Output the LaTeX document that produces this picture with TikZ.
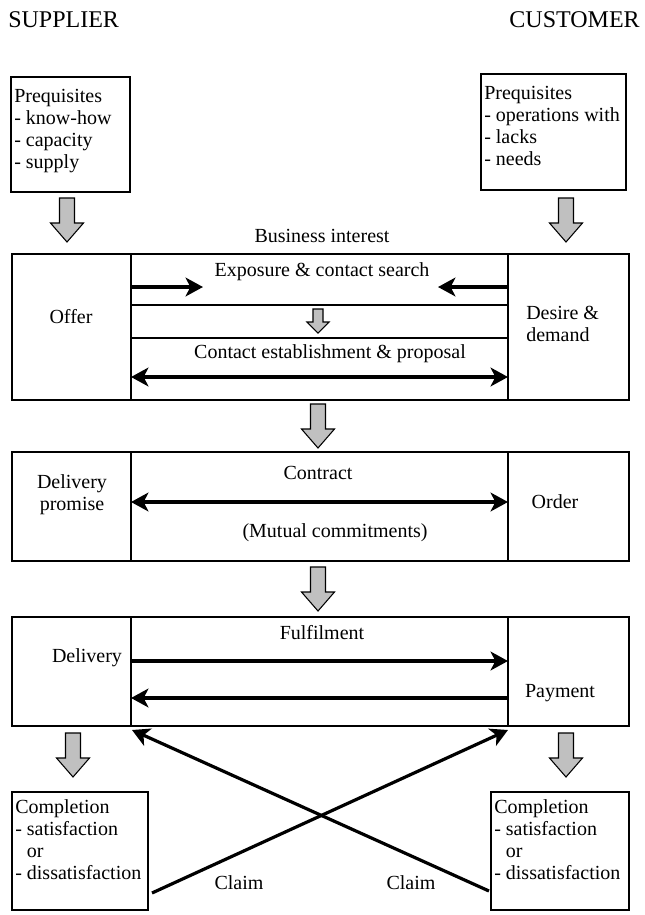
\documentclass[tikz,border=0pt]{standalone}
\usepackage{fontspec}
\setmainfont{Liberation Serif}
\usetikzlibrary{arrows.meta}
\definecolor{garrowfill}{HTML}{C0C0C0}
\begin{document}
\begin{tikzpicture}[x=0.75pt,y=-0.75pt,
  txt/.style={font=\fontsize{15}{16.5}\selectfont, inner sep=0pt},
  ttl/.style={font=\fontsize{18}{20}\selectfont, inner sep=0pt},
  cell/.style={draw, line width=1.4pt, anchor=north west, inner sep=0pt, outer sep=0pt},
  rowline/.style={line width=1.1pt},
  blk/.style={line width=2.4pt, -{Stealth[length=13pt,width=14pt,inset=3.5pt]}},
  blkboth/.style={line width=2.4pt, {Stealth[length=13pt,width=14pt,inset=3.5pt]}-{Stealth[length=13pt,width=14pt,inset=3.5pt]}},
  gshape/.style={fill=garrowfill, draw=black, line width=0.8pt, line join=miter},
  bigdown/.pic={\path[gshape] (-7.5,0) -- (7.5,0) -- (7.5,25) -- (16.5,25) -- (0,44) -- (-16.5,25) -- (-7.5,25) -- cycle;},
  smalldown/.pic={\path[gshape] (-5,0) -- (5,0) -- (5,13) -- (11,13) -- (0,24) -- (-11,13) -- (-5,13) -- cycle;}
]
\useasboundingbox (0,0) rectangle (644,915);

% titles
\node[ttl, anchor=base west] (sup) at (8,27) {SUPPLIER};
\node[ttl, anchor=base east] (cus) at (640,27) {CUSTOMER};

% prerequisite boxes
\node[cell, line width=2pt, minimum width=89.25pt, minimum height=86.25pt] (pl) at (11,77) {};
\node[txt, anchor=north west, align=left] (plt) at (14,89) {Prequisites\\- know-how\\- capacity\\- supply};
\node[cell, minimum width=108.75pt, minimum height=87pt] (pr) at (481,74) {};
\node[txt, anchor=north west, align=left] (prt) at (484,86) {Prequisites\\- operations with\\- lacks\\- needs};

\pic at (67,198) {bigdown};
\pic at (566,198) {bigdown};

\node[txt] (bi) at (322,236) {Business interest};

% box 1
\node[cell, minimum width=89.25pt, minimum height=109.5pt] (l1) at (12,254) {};
\node[cell, minimum width=282.75pt, minimum height=109.5pt] (m1) at (131,254) {};
\node[cell, minimum width=90.75pt, minimum height=109.5pt] (r1) at (508,254) {};
\coordinate (r1a) at (131,305); \coordinate (r1b) at (508,305);
\coordinate (r2a) at (131,338); \coordinate (r2b) at (508,338);
\draw[rowline] (r1a) -- (r1b);
\draw[rowline] (r2a) -- (r2b);
\node[txt] (offer) at (71,317) {Offer};
\node[txt, anchor=west, align=left] (desire) at (526,324) {Desire \&\\demand};
\node[txt] (expo) at (322,272) {Exposure \& contact search};
\coordinate (e1a) at (131,287); \coordinate (e1b) at (203,287);
\coordinate (e2a) at (508,287); \coordinate (e2b) at (438,287);
\draw[blk] (e1a) -- (e1b);
\draw[blk] (e2a) -- (e2b);
\pic at (318,309) {smalldown};
\node[txt] (cep) at (330,354) {Contact establishment \& proposal};
\coordinate (c1a) at (131,377); \coordinate (c1b) at (508,377);
\draw[blkboth] (c1a) -- (c1b);

\pic at (318,404) {bigdown};

% box 2
\node[cell, minimum width=89.25pt, minimum height=81.75pt] (l2) at (12,452) {};
\node[cell, minimum width=282.75pt, minimum height=81.75pt] (m2) at (131,452) {};
\node[cell, minimum width=90.75pt, minimum height=81.75pt] (r2) at (508,452) {};
\node[txt, align=center] (dp) at (72,495) {Delivery\\promise};
\node[txt] (contract) at (318,473) {Contract};
\node[txt] (mutual) at (335,533) {(Mutual commitments)};
\node[txt] (order) at (555,502) {Order};
\coordinate (c2a) at (131,502); \coordinate (c2b) at (508,502);
\draw[blkboth] (c2a) -- (c2b);

\pic at (318,567) {bigdown};

% box 3
\node[cell, minimum width=89.25pt, minimum height=81.75pt] (l3) at (12,617) {};
\node[cell, minimum width=282.75pt, minimum height=81.75pt] (m3) at (131,617) {};
\node[cell, minimum width=90.75pt, minimum height=81.75pt] (r3) at (508,617) {};
\node[txt] (ful) at (322,633) {Fulfilment};
\node[txt] (deliv) at (87,658) {Delivery};
\node[txt] (pay) at (560,693) {Payment};
\coordinate (f1a) at (131,661); \coordinate (f1b) at (508,661);
\coordinate (f2a) at (508,698); \coordinate (f2b) at (131,698);
\draw[blk] (f1a) -- (f1b);
\draw[blk] (f2a) -- (f2b);

\pic at (73,733) {bigdown};
\pic at (566,733) {bigdown};

% completion boxes
\node[cell, minimum width=102pt, minimum height=88.5pt] (cl) at (12,792) {};
\node[txt, anchor=north west, align=left] (clt) at (15,799) {Completion\\- satisfaction\\\phantom{- }or\\- dissatisfaction};
\node[cell, minimum width=103.5pt, minimum height=88.5pt] (cr) at (491,792) {};
\node[txt, anchor=north west, align=left] (crt) at (494,799) {Completion\\- satisfaction\\\phantom{- }or\\- dissatisfaction};

% claims
\coordinate (xa) at (152,893); \coordinate (xb) at (508,730);
\coordinate (ya) at (489,891); \coordinate (yb) at (132,730);
\draw[blk] (xa) -- (xb);
\draw[blk] (ya) -- (yb);
\node[txt] (cl1) at (239,883) {Claim};
\node[txt] (cl2) at (411,883) {Claim};
\end{tikzpicture}
\end{document}
